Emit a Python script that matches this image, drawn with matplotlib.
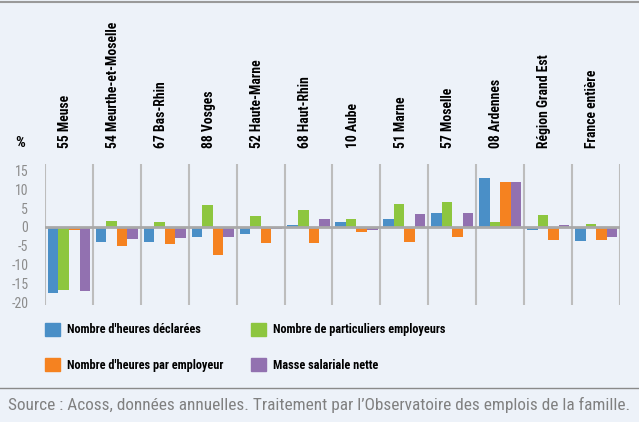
import numpy as np
import matplotlib.pyplot as plt
from matplotlib.patches import Patch

# Data (variation in %)
departements = ['55 Meuse', '54 Meurthe-et-Moselle', '67 Bas-Rhin', '88 Vosges',
                '52 Haute-Marne', '68 Haut-Rhin', '10 Aube', '51 Marne', '57 Moselle',
                '08 Ardennes', 'Région Grand Est', 'France entière']
heures_declarees = [-17.6, -4.1, -4.1, -2.7, -1.9, 0.6, 1.2, 2.2, 3.8, 13.1, -0.9, -3.8]
particuliers = [-16.8, 1.7, 1.4, 5.9, 3.0, 4.6, 2.2, 6.2, 6.7, 1.2, 3.3, 0.9]
heures_par_employeur = [-0.9, -5.1, -4.6, -7.5, -4.3, -4.3, -1.4, -4.1, -2.7, 12.0, -3.5, -3.5]
masse_salariale = [-17.1, -3.3, -3.0, -2.7, -0.6, 2.2, -0.9, 3.5, 3.8, 12.0, 0.6, -2.7]

series = [heures_declarees, particuliers, heures_par_employeur, masse_salariale]
labels = ["Nombre d'heures déclarées", "Nombre de particuliers employeurs",
          "Nombre d'heures par employeur", "Masse salariale nette"]
colors = ['#4A8FC7', '#8DC63F', '#F58220', '#9271B0']
y_ticks = [15, 10, 5, 0, -5, -10, -15, -20]

bg = '#EDF2F9'
narrow = ['Roboto Condensed', 'Liberation Sans', 'DejaVu Sans']

fig = plt.figure(figsize=(6.39, 4.22), dpi=100, facecolor=bg)
ax = fig.add_axes([45 / 639, 1 - 305 / 422, 575 / 639, 141 / 422], facecolor=bg)

x = np.arange(len(departements))
width = 0.22
for i, (vals, col) in enumerate(zip(series, colors)):
    ax.bar(x + (i - 1.5) * width, vals, width, color=col, zorder=2)

# separators between departments and zero line
for b in np.arange(len(departements) + 1) - 0.5:
    ax.axvline(b, color='#BDBDBD', lw=1.5, zorder=1)
ax.axhline(0, color='#A9A9A9', lw=2, zorder=3)

ax.set_xlim(-0.5, len(departements) - 0.5)
ax.set_ylim(-20.7, 16.7)
ax.set_yticks(y_ticks)
ax.set_yticklabels([str(v) for v in y_ticks], color='#8C8C8C', fontsize=10, family=narrow)
ax.tick_params(axis='y', length=0, pad=12)
ax.set_xticks([])
for s in ax.spines.values():
    s.set_visible(False)

# rotated department names above the plot
for xi, name in zip(x, departements):
    ax.text(xi - 0.08, 1.11, name, transform=ax.get_xaxis_transform(), rotation=90,
            ha='center', va='bottom', fontsize=9.8, fontweight='bold', family=narrow)
fig.text(20 / 639, 1 - 143 / 422, '%', ha='center', va='center', fontsize=11,
         fontweight='bold', family=narrow)

# legend
order = [0, 2, 1, 3]
handles = [Patch(color=colors[i], label=labels[i]) for i in order]
leg = fig.legend(handles=handles, ncol=2, loc='upper left',
                 bbox_to_anchor=(34 / 639, 1 - 312 / 422), frameon=False,
                 handlelength=1.23, handleheight=1.23, handletextpad=0.55,
                 columnspacing=2.3, labelspacing=1.8,
                 prop={'family': narrow, 'weight': 'bold', 'size': 8.8})

# frame lines and source
fig.add_artist(plt.Line2D([0, 1], [1 - 2 / 422, 1 - 2 / 422], color='#9A9A9A', lw=1.5))
fig.add_artist(plt.Line2D([0, 1], [1 - 388 / 422, 1 - 388 / 422], color='#8A8A8A', lw=1))
fig.text(8 / 639, 1 - 405 / 422,
         "Source : Acoss, données annuelles. Traitement par l’Observatoire des emplois de la famille.",
         ha='left', va='center', fontsize=12.4, color='#808080', family=narrow)

fig.savefig('out.png', dpi=100, facecolor=bg)
